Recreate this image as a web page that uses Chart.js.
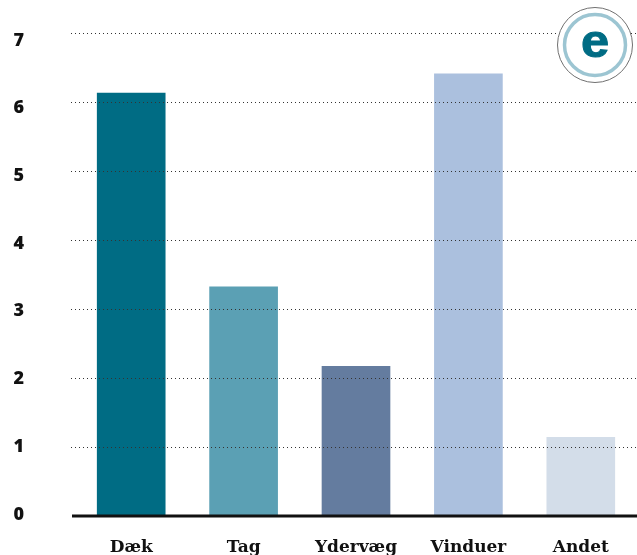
<!DOCTYPE html>
<html>
<head>
<meta charset="utf-8">
<script src="https://cdn.jsdelivr.net/npm/chart.js@4"></script>
<style>
    html, body { margin: 0; padding: 0; background: #fff; }
    #wrap { width: 637px; height: 555px; position: relative; }
</style>
</head>
<body>
<div id="wrap"><canvas id="bars"></canvas></div>
<script>
const categories = ['Dæk', 'Tag', 'Ydervæg', 'Vinduer', 'Andet'];
const values = [6.13, 3.32, 2.17, 6.41, 1.14];
const barColors = ['#006c84', '#5ba0b4', '#647c9f', '#abc0de', '#d3dde9'];
const yTicks = [0, 1, 2, 3, 4, 5, 6, 7];

// baseline and the round "e" badge
const extras = {
    id: 'extras',
    afterDraw(chart) {
        const ctx = chart.ctx;
        const base = chart.scales.y.getPixelForValue(0);
        ctx.save();
        ctx.strokeStyle = '#111';
        ctx.lineWidth = 3;
        ctx.beginPath();
        ctx.moveTo(72, base);
        ctx.lineTo(637, base);
        ctx.stroke();

        ctx.beginPath();
        ctx.arc(595, 45, 37.5, 0, Math.PI * 2);
        ctx.fillStyle = '#fff';
        ctx.fill();
        ctx.lineWidth = 1;
        ctx.strokeStyle = '#707070';
        ctx.stroke();

        ctx.beginPath();
        ctx.arc(595, 45, 30.5, 0, Math.PI * 2);
        ctx.lineWidth = 3.5;
        ctx.strokeStyle = '#9cc5d2';
        ctx.stroke();

        // the badge letter is rounder and heavier than the plain bold face
        ctx.translate(595, 57);
        ctx.scale(1.1, 1);
        ctx.fillStyle = '#006c84';
        ctx.strokeStyle = '#006c84';
        ctx.lineWidth = 1;
        ctx.font = 'bold 46px "Liberation Sans"';
        ctx.textAlign = 'center';
        ctx.textBaseline = 'alphabetic';
        ctx.fillText('e', 0, 0);
        ctx.strokeText('e', 0, 0);
        ctx.restore();
    }
};

new Chart(document.getElementById('bars'), {
    type: 'bar',
    data: {
        labels: categories,
        datasets: [{
            data: values,
            backgroundColor: barColors,
            barThickness: 68
        }]
    },
    options: {
        responsive: true,
        maintainAspectRatio: false,
        animation: false,
        layout: { padding: { top: 33 } },
        plugins: { legend: { display: false }, tooltip: { enabled: false } },
        scales: {
            x: {
                grid: { display: false },
                border: { display: false },
                ticks: {
                    color: '#111',
                    padding: 13,
                    maxRotation: 0,
                    font: { family: '"DejaVu Serif"', weight: 'bold', size: 17 }
                },
                afterFit(scale) {
                    scale.height = 39;
                    scale.paddingLeft = 0;
                    scale.paddingRight = 0;
                }
            },
            y: {
                min: 0,
                max: 7,
                ticks: { display: false, stepSize: 1 },
                border: { display: false, dash: [1, 3] },
                grid: {
                    z: 1,
                    color: ctx => ctx.tick.value === 0 ? 'transparent' : '#333',
                    lineWidth: 1,
                    tickLength: 4,
                    tickColor: ctx => ctx.tick.value === 0 ? 'transparent' : '#333',
                    tickBorderDash: [1, 3]
                },
                afterFit(scale) {
                    scale.width = 4;
                    scale.paddingTop = 0;
                    scale.paddingBottom = 0;
                }
            },
            // the printed numbers sit a little off the grid lines, so they get their own scale
            yLabels: {
                position: 'left',
                min: -0.022,
                max: 7.11,
                afterBuildTicks(scale) { scale.ticks = yTicks.map(v => ({ value: v })); },
                grid: { display: false },
                border: { display: false },
                ticks: {
                    color: '#111',
                    padding: 39,
                    align: 'center',
                    crossAlign: 'near',
                    font: { family: '"Open Sans"', weight: '800', size: 18 }
                },
                afterFit(scale) {
                    scale.width = 71;
                    scale.paddingTop = 0;
                    scale.paddingBottom = 0;
                }
            }
        }
    },
    plugins: [extras]
});
</script>
</body>
</html>
